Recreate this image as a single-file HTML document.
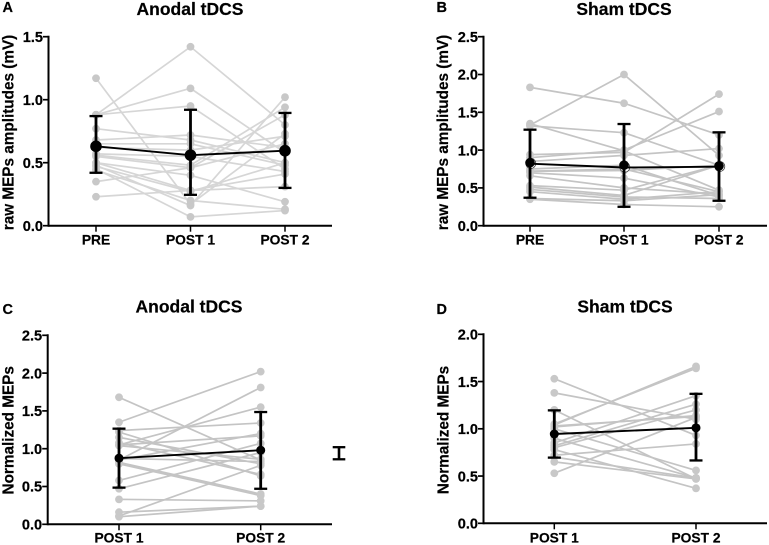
<!DOCTYPE html>
<html>
<head>
<meta charset="utf-8">
<style>
html,body{margin:0;padding:0;background:#fff;}
svg{display:block;}
text{font-family:"Liberation Sans",sans-serif;font-weight:bold;fill:#000;stroke:#000;stroke-width:0.2;}
</style>
</head>
<body>
<svg id="fig" width="769" height="545" viewBox="0 0 769 545" xmlns="http://www.w3.org/2000/svg"></svg>
<script>
const catsRaw = ['PRE', 'POST 1', 'POST 2'];
const catsNorm = ['POST 1', 'POST 2'];
const ticksA = ['0.0', '0.5', '1.0', '1.5'];
const ticksB = ['0.0', '0.5', '1.0', '1.5', '2.0', '2.5'];
const ticksC = ['0.0', '0.5', '1.0', '1.5', '2.0', '2.5'];
const ticksD = ['0.0', '0.5', '1.0', '1.5', '2.0'];

const aPre   = [1.17, .88, .88, .88, .77, .68, .65, .62, .57, .56, .55, .50, .50, .47, .44, .35, .23, .48, .45];
const aPost1 = [.17, 1.42, 1.09, .95, .68, .72, .65, .60, .55, .48, .46, .40, .28, .27, .20, .46, .28, .16, .07];
const aPost2 = [.73, .80, .58, .45, .50, .62, .48, .71, .43, .94, .88, .19, .31, .50, .13, .65, .41, 1.02, .12];
const aMean = [.63, .56, .595];
const aHigh = [.87, .92, .895];
const aLow  = [.42, .245, .30];

const bPre   = [1.83, 1.35, 1.33, 1.32, .94, .90, .85, .75, .72, .72, .70, .66, .53, .51, .48, .45, .36, .35];
const bPost1 = [1.62, .99, 2.00, 1.23, .97, 1.00, .93, .80, .75, .73, .63, .50, .47, .40, .38, .35, .33, .28];
const bPost2 = [1.20, .47, .93, .80, 1.74, 1.51, 1.02, .40, .45, .80, .38, .42, .80, .80, .36, .45, .41, .25];
const bMean = [.82, .77, .78];
const bHigh = [1.27, 1.345, 1.235];
const bLow  = [.37, .25, .33];

const cPost1 = [1.68, 1.35, .85, 1.05, 1.24, 1.05, 1.08, 1.22, 1.15, 1.04, .87, .85, .82, .80, .58, .47, .33, .16, .11, .10];
const cPost2 = [.85, 2.02, 1.81, 1.55, 1.34, 1.17, .66, .64, .80, .86, .83, 1.20, .40, .38, 1.07, .95, .31, .24, .78, .24];
const cMean = [.875, .98];
const cHigh = [1.265, 1.485];
const cLow  = [.485, .47];
const cScaleBar = [.86, 1.02];

const dPost1 = [1.53, 1.38, 1.20, 1.05, 1.04, 1.03, 1.02, 1.00, .90, .85, .82, .80, .78, .72, .70, .65, .53];
const dPost2 = [.93, 1.10, .47, 1.64, 1.66, 1.13, 1.14, .56, .48, 1.35, 1.26, 1.20, .37, .84, .48, .47, 1.12];
const dMean = [.945, 1.01];
const dHigh = [1.195, 1.37];
const dLow  = [.695, .665];

const NS = 'http://www.w3.org/2000/svg';
const fig = document.getElementById('fig');

function make(tag, attrs, parent, txt) {
  const el = document.createElementNS(NS, tag);
  for (const k in attrs) el.setAttribute(k, attrs[k]);
  if (txt !== undefined) el.textContent = txt;
  parent.appendChild(el);
  return el;
}

function label(parent, attrs, txt, name) {
  const el = make('text', attrs, parent, txt);
  
  
  return el;
}

function drawPanel(p) {
  const g = make('g', {}, fig);
  
  

  const yMax = parseFloat(p.ticks[p.ticks.length - 1]);
  const y = v => p.y0 - (v / yMax) * (p.y0 - p.yTop);
  const x = i => p.cx[i];
  p.scale = y;

  label(g, {x: p.letterX, y: p.letterY, 'font-size': 14.5}, p.id.toUpperCase(), 'panel-letter');
  label(g, {x: p.titleX, y: p.titleY, 'font-size': 17.5, 'text-anchor': 'middle'}, p.title, 'panel-title');
  label(g, {transform: 'translate(' + p.yTitleX + ',' + p.yTitleY + ') rotate(-90)', 'font-size': 15.3, 'text-anchor': 'middle'}, p.yTitle, 'y-axis-title');

  // individual subjects
  const n = p.subjects[0].length;
  for (let s = 0; s < n; s++) {
    const pts = p.subjects.map((col, i) => x(i) + ',' + y(col[s])).join(' ');
    const line = make('polyline', {points: pts, fill: 'none', stroke: p.lineColor, 'stroke-width': 1.7}, g);
    
    
  }
  p.subjects.forEach((col, i) => {
    col.forEach(v => {
      const dot = make('circle', {cx: x(i), cy: y(v), r: 3.9, fill: '#c8c8c8'}, g);
      
      
    });
  });

  // axes
  const yAxis = make('line', {x1: p.x0, x2: p.x0, y1: p.yTop - 1, y2: p.y0 + 1, stroke: '#000', 'stroke-width': 2}, g);
  
  
  const xAxis = make('line', {x1: p.x0, x2: p.xEnd, y1: p.y0, y2: p.y0, stroke: '#000', 'stroke-width': 2}, g);
  
  

  p.ticks.forEach(t => {
    const v = parseFloat(t);
    const tk = make('line', {x1: p.x0 - 5.5, x2: p.x0, y1: y(v), y2: y(v), stroke: '#000', 'stroke-width': 1.7}, g);
    
    
    label(g, {x: p.x0 - 5.5, y: y(v) + 5.2, 'font-size': 14.6, 'text-anchor': 'end'}, t, 'y-tick-label');
  });
  p.cats.forEach((c, i) => {
    const tk = make('line', {x1: x(i), x2: x(i), y1: p.y0, y2: p.y0 + 6, stroke: '#000', 'stroke-width': 1.5}, g);
    
    
    label(g, {x: x(i), y: p.xLabelY, 'font-size': 13.8, 'text-anchor': 'middle'}, c, 'x-tick-label');
  });

  // group mean and SD
  if (p.ring) {
    p.mean.forEach((v, i) => {
      const ring = make('circle', {cx: x(i) + 0.8, cy: y(v) - 0.3, r: 5, fill: '#fff', stroke: '#333', 'stroke-width': 0.7}, g);
      
      
    });
  }
  const meanLine = make('polyline', {points: p.mean.map((v, i) => x(i) + ',' + y(v)).join(' '), fill: 'none', stroke: '#000', 'stroke-width': 1.9}, g);
  
  

  p.mean.forEach((v, i) => {
    const bar = make('line', {x1: x(i), x2: x(i), y1: y(p.high[i]), y2: y(p.low[i]), stroke: '#000', 'stroke-width': 2.8}, g);
    
    
    [p.high[i], p.low[i]].forEach(e => {
      const cap = make('line', {x1: x(i) - 6.5, x2: x(i) + 6.5, y1: y(e), y2: y(e), stroke: '#000', 'stroke-width': 2.3}, g);
      
      
    });
    const dot = make('circle', {cx: x(i), cy: y(v) + (p.dotShift ? p.dotShift[i] : 0), r: p.meanR, fill: '#000'}, g);
    
    
  });
  return p;
}

drawPanel({
  id: 'a', title: 'Anodal tDCS', yTitle: 'raw MEPs amplitudes (mV)',
  letterX: 2.5, letterY: 12, titleX: 190, titleY: 15, yTitleX: 13.5, yTitleY: 132.5,
  x0: 48.5, xEnd: 332, y0: 225.7, yTop: 36.7, xLabelY: 244.5,
  cx: [96, 190.5, 285], ticks: ticksA, cats: catsRaw,
  subjects: [aPre, aPost1, aPost2], mean: aMean, high: aHigh, low: aLow,
  meanR: 5.8, lineColor: '#d6d6d6'
});

drawPanel({
  id: 'b', title: 'Sham tDCS', yTitle: 'raw MEPs amplitudes (mV)',
  letterX: 436.5, letterY: 12, titleX: 624, titleY: 15, yTitleX: 448, yTitleY: 132.5,
  x0: 483.5, xEnd: 767, y0: 225.7, yTop: 36.7, xLabelY: 244.5,
  cx: [530, 624, 719], ticks: ticksB, cats: catsRaw,
  subjects: [bPre, bPost1, bPost2], mean: bMean, high: bHigh, low: bLow,
  meanR: 4.8, lineColor: '#c4c4c4', ring: true, dotShift: [-1, -2.3, -0.8]
});

const panelC = drawPanel({
  id: 'c', title: 'Anodal tDCS', yTitle: 'Normalized MEPs',
  letterX: 2.5, letterY: 314, titleX: 189, titleY: 312.7, yTitleX: 13.5, yTitleY: 430.3,
  x0: 47.7, xEnd: 332, y0: 524.3, yTop: 335.3, xLabelY: 542.7,
  cx: [119, 260.7], ticks: ticksC, cats: catsNorm,
  subjects: [cPost1, cPost2], mean: cMean, high: cHigh, low: cLow,
  meanR: 4.5, lineColor: '#c4c4c4'
});

drawPanel({
  id: 'd', title: 'Sham tDCS', yTitle: 'Normalized MEPs',
  letterX: 436.5, letterY: 314, titleX: 625, titleY: 312.3, yTitleX: 448.3, yTitleY: 430,
  x0: 483.5, xEnd: 767, y0: 523.3, yTop: 334.3, xLabelY: 542.7,
  cx: [554.3, 696], ticks: ticksD, cats: catsNorm,
  subjects: [dPost1, dPost2], mean: dMean, high: dHigh, low: dLow,
  meanR: 4.5, lineColor: '#c4c4c4'
});

// standalone interval beside panel C
const sb = make('g', {}, fig);


const sbY0 = panelC.scale(cScaleBar[0]);
const sbY1 = panelC.scale(cScaleBar[1]);
make('line', {x1: 339, x2: 339, y1: sbY0, y2: sbY1, stroke: '#000', 'stroke-width': 2.6}, sb);
make('line', {x1: 332.7, x2: 345.3, y1: sbY0, y2: sbY0, stroke: '#000', 'stroke-width': 2.3}, sb);
make('line', {x1: 332.7, x2: 345.3, y1: sbY1, y2: sbY1, stroke: '#000', 'stroke-width': 2.3}, sb);
</script>
</body>
</html>
